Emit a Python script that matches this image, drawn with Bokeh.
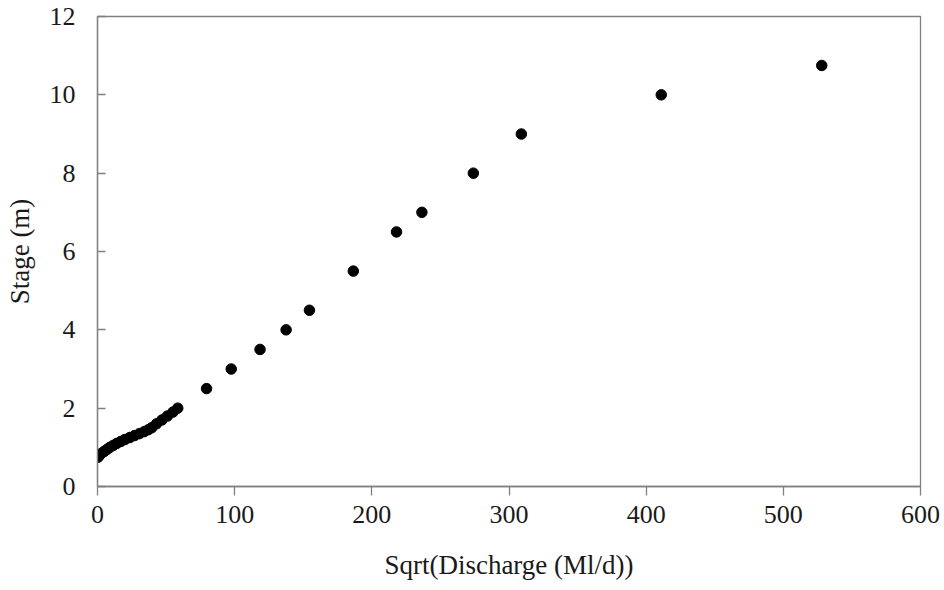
from bokeh.plotting import figure
from bokeh.models import ColumnDataSource, FixedTicker, Range1d
from bokeh.embed import file_html
from bokeh.resources import INLINE

# Data
sqrt_discharge = [0.5, 1.5, 3, 5, 7, 9, 11.5, 14, 17, 20, 23.5, 27, 30.5, 34, 37, 39.5,
                  43, 47, 51, 55, 58.5,
                  79.5, 97.5, 118.5, 137.5, 154.5, 186.5, 218, 236.5, 274, 309, 411, 528]
stage = [0.75, 0.8, 0.85, 0.9, 0.95, 1.0, 1.05, 1.1, 1.15, 1.2, 1.25, 1.3, 1.35, 1.4, 1.45, 1.5,
         1.6, 1.7, 1.8, 1.9, 2.0,
         2.5, 3.0, 3.5, 4.0, 4.5, 5.5, 6.5, 7.0, 8.0, 9.0, 10.0, 10.75]
x_ticks = [0, 100, 200, 300, 400, 500, 600]
y_ticks = [0, 2, 4, 6, 8, 10, 12]

src = ColumnDataSource(dict(x=sqrt_discharge, y=stage))

FONT = "Liberation Serif"
AXC = "#808080"

p = figure(width=940, height=590, output_backend="svg", toolbar_location=None,
           x_range=Range1d(0, 600), y_range=Range1d(0, 12),
           min_border_left=97, min_border_right=20, min_border_top=16, min_border_bottom=104)
p.scatter("x", "y", source=src, size=10.5, color="black")

p.grid.visible = False
p.outline_line_color = AXC
p.outline_line_width = 1.3
p.background_fill_color = "white"
p.border_fill_color = "white"

xa = p.xaxis[0]
xa.ticker = FixedTicker(ticks=x_ticks)
xa.minor_tick_line_color = None
xa.major_tick_in = 0
xa.major_tick_out = 9
xa.major_label_standoff = 10
xa.axis_line_color = AXC
xa.axis_line_width = 1.3
xa.major_tick_line_color = AXC
xa.major_tick_line_width = 1.3
xa.axis_label = "Sqrt(Discharge (Ml/d))"
xa.axis_label_standoff = 24
xa.axis_label_text_font_style = "normal"

ya = p.yaxis[0]
ya.ticker = FixedTicker(ticks=y_ticks)
ya.minor_tick_line_color = None
ya.major_tick_in = 8
ya.major_tick_out = 0
ya.major_label_standoff = 22
ya.axis_line_color = AXC
ya.axis_line_width = 1.3
ya.major_tick_line_color = AXC
ya.major_tick_line_width = 1.3
ya.axis_label = "Stage (m)"
ya.axis_label_standoff = 12
ya.axis_label_text_font_style = "normal"

for ax in (xa, ya):
    ax.major_label_text_font = FONT
    ax.axis_label_text_font = FONT
    ax.major_label_text_font_size = "26px"
    ax.axis_label_text_font_size = "27px"
    ax.major_label_text_color = "#1a1a1a"
    ax.axis_label_text_color = "#1a1a1a"

open("out.html", "w").write(file_html(p, INLINE))
